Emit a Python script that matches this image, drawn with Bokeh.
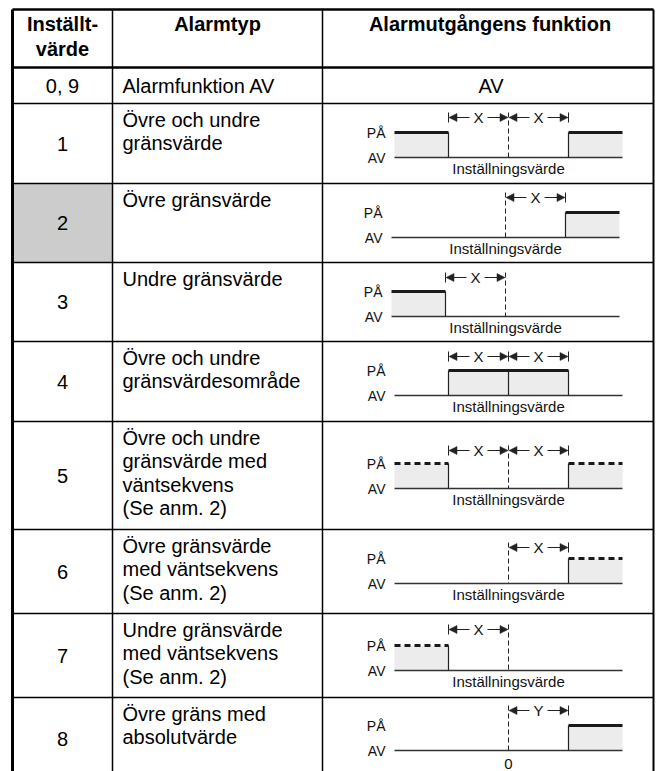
from bokeh.plotting import figure
from bokeh.models import Range1d, Arrow, NormalHead, ColumnDataSource
from bokeh.core.properties import value
from bokeh.embed import file_html
from bokeh.resources import INLINE

# ---------------- table content ----------------
header_col1 = ["Inställt-", "värde"]
header_col2 = ["Alarmtyp"]
header_col3 = ["Alarmutgångens funktion"]
setting_values = ["0, 9", "1", "2", "3", "4", "5", "6", "7", "8"]
alarm_types = [
    ["Alarmfunktion AV"],
    ["Övre och undre", "gränsvärde"],
    ["Övre gränsvärde"],
    ["Undre gränsvärde"],
    ["Övre och undre", "gränsvärdesområde"],
    ["Övre och undre", "gränsvärde med", "väntsekvens", "(Se anm. 2)"],
    ["Övre gränsvärde", "med väntsekvens", "(Se anm. 2)"],
    ["Undre gränsvärde", "med väntsekvens", "(Se anm. 2)"],
    ["Övre gräns med", "absolutvärde"],
]
off_output_text = "AV"
highlighted_setting = "2"

# ---------------- alarm output diagrams ----------------
# value axis in units of X (or Y) around the set point (0)
value_span = [-1.9, 1.9]
on_ranges = [
    [[-1.9, -1.0], [1.0, 1.9]],
    [[1.0, 1.9]],
    [[-1.9, -1.0]],
    [[-1.0, 1.0]],
    [[-1.9, -1.0], [1.0, 1.9]],
    [[1.0, 1.9]],
    [[-1.9, -1.0]],
    [[1.0, 1.9]],
]
standby_sequence = [False, False, False, False, True, True, True, False]
band_spans = [
    [[-1, 0], [0, 1]],
    [[0, 1]],
    [[-1, 0]],
    [[-1, 0], [0, 1]],
    [[-1, 0], [0, 1]],
    [[0, 1]],
    [[-1, 0]],
    [[0, 1]],
]
band_labels = ["X", "X", "X", "X", "X", "X", "X", "Y"]
axis_labels = ["Inställningsvärde"] * 7 + ["0"]
level_labels = ["PÅ", "AV"]

# ---------------- layout (screen pixels) ----------------
FONT = value("Liberation Sans")
col_edges = [12, 112, 322, 653]
row_edges = [9, 67, 103, 183, 262, 341, 421, 529, 613, 697, 771]
diag_setpoint_px = [508, 505, 505, 508, 508, 508, 508, 508]
diag_off_px = [157, 237, 316, 395, 488, 583, 670, 750]
diag_arrow_px = [117, 197, 277, 356, 450, 547, 629, 710]
unit_px = 60
level_gap = 25

p = figure(width=660, height=771, x_range=Range1d(0, 660), y_range=Range1d(771, 0),
           output_backend="svg", toolbar_location=None, min_border=0)
p.axis.visible = False
p.grid.visible = False
p.outline_line_color = None
p.background_fill_color = "white"
p.border_fill_color = "white"

# highlighted cell
hi = setting_values.index(highlighted_setting) + 1
p.quad(left=[col_edges[0]], right=[col_edges[1]], top=[row_edges[hi]], bottom=[row_edges[hi + 1]],
       fill_color="#cccccc", line_color=None)

# grid lines
inner_rows = row_edges[2:-1]
p.segment(x0=[col_edges[0]] * len(inner_rows), x1=[col_edges[-1]] * len(inner_rows),
          y0=inner_rows, y1=inner_rows, line_color="black", line_width=1.5)
p.segment(x0=[col_edges[0]], x1=[col_edges[-1]], y0=[row_edges[1]], y1=[row_edges[1]],
          line_color="black", line_width=2.5)
p.segment(x0=[col_edges[0]], x1=[col_edges[-1]], y0=[row_edges[0]], y1=[row_edges[0]],
          line_color="black", line_width=2.5)
p.segment(x0=col_edges[1:3], x1=col_edges[1:3], y0=[row_edges[0]] * 2, y1=[row_edges[-1]] * 2,
          line_color="black", line_width=1.5)
p.segment(x0=[col_edges[0]], x1=[col_edges[0]], y0=[row_edges[0]], y1=[row_edges[-1]],
          line_color="black", line_width=3)
p.segment(x0=[col_edges[-1]], x1=[col_edges[-1]], y0=[row_edges[0]], y1=[row_edges[-1]],
          line_color="black", line_width=2)

# header texts
c1 = (col_edges[0] + col_edges[1]) / 2
c2 = (col_edges[1] + col_edges[2]) / 2
c3 = (col_edges[2] + col_edges[3]) / 2
hx, hy, ht = [], [], []
for i, t in enumerate(header_col1):
    hx.append(c1); hy.append(23 + i * 25); ht.append(t)
hx += [c2, c3 + 2]; hy += [23, 23]; ht += header_col2 + header_col3
p.text(x=hx, y=hy, text=ht, text_font=FONT, text_font_size="20px", text_font_style="bold",
       text_align="center", text_baseline="middle", text_color="black")

# column 1 and 2 texts
nx, ny, nt = [], [], []
ax, ay, at = [], [], []
for r, (sv, lines) in enumerate(zip(setting_values, alarm_types)):
    top, bot = row_edges[r + 1], row_edges[r + 2]
    last = r == len(setting_values) - 1
    nx.append(c1); ny.append(top + 41 if last else (top + bot) / 2); nt.append(sv)
    if r == 0:
        ax.append(122); ay.append((top + bot) / 2); at.append(lines[0])
    else:
        for k, t in enumerate(lines):
            ax.append(122); ay.append(top + 16.5 + k * 23.3); at.append(t)
p.text(x=nx, y=ny, text=nt, text_font=FONT, text_font_size="20px", text_align="center",
       text_baseline="middle", text_color="black")
p.text(x=ax, y=ay, text=at, text_font=FONT, text_font_size="20px", text_align="left",
       text_baseline="middle", text_color="black")
p.text(x=[c3 + 3], y=[(row_edges[1] + row_edges[2]) / 2], text=[off_output_text], text_font=FONT,
       text_font_size="20px", text_align="center", text_baseline="middle", text_color="black")

# diagrams
fl, fr, ft, fb = [], [], [], []
sol = dict(x0=[], x1=[], y0=[], y1=[])
das = dict(x0=[], x1=[], y0=[], y1=[])
base = dict(x0=[], x1=[], y0=[], y1=[])
edges = dict(x0=[], x1=[], y0=[], y1=[])
thin = dict(x0=[], x1=[], y0=[], y1=[])
spd = dict(x0=[], x1=[], y0=[], y1=[])
arr = dict(x_start=[], x_end=[], y_start=[], y_end=[])
lx, ly, lt = [], [], []
blx, bly, blt = [], [], []
tx, ty, tt = [], [], []

def add(d, a, b, c, e):
    d["x0"].append(a); d["x1"].append(b); d["y0"].append(c); d["y1"].append(e)

for i in range(len(on_ranges)):
    sp, yo, ya = diag_setpoint_px[i], diag_off_px[i], diag_arrow_px[i]
    yon = yo - level_gap
    X = lambda v: sp + v * unit_px
    add(base, X(value_span[0]), X(value_span[1]), yo, yo)
    for a, b in on_ranges[i]:
        fl.append(X(a)); fr.append(X(b)); ft.append(yon); fb.append(yo)
        add(das if standby_sequence[i] else sol, X(a), X(b), yon, yon)
        for v in (a, b):
            if value_span[0] < v < value_span[1]:
                add(edges, X(v), X(v), yon, yo)
        if a < 0 < b:
            add(edges, X(0), X(0), yon, yo)
    # set point line
    inside_on = any(a < 0 < b for a, b in on_ranges[i])
    if inside_on:
        add(thin, X(0), X(0), ya - 5, ya + 5)
    else:
        add(spd, X(0), X(0), ya - 5, yo)
    # band ticks and arrows
    for a, b in band_spans[i]:
        for v in (a, b):
            if v != 0:
                add(thin, X(v), X(v), ya - 5, ya + 5)
        m = X((a + b) / 2)
        arr["x_start"] += [m - 9, m + 9]; arr["x_end"] += [X(a) + 0.5, X(b) - 0.5]
        arr["y_start"] += [ya, ya]; arr["y_end"] += [ya, ya]
        blx.append(m); bly.append(ya); blt.append(band_labels[i])
    lx += [X(value_span[0]) - 9, X(value_span[0]) - 9]; ly += [yon, yo]; lt += level_labels
    tx.append(X(0)); ty.append(yo + (11 if axis_labels[i] != "0" else 13)); tt.append(axis_labels[i])

p.quad(left=fl, right=fr, top=ft, bottom=fb, fill_color="#ececec", line_color=None)
p.segment(line_color="#333333", line_width=1.5, **base)
p.segment(line_color="#222222", line_width=1.2, **edges)
p.segment(line_color="#222222", line_width=1, **thin)
p.segment(line_color="#222222", line_width=1, line_dash="5 3", **spd)
p.segment(line_color="#1a1a1a", line_width=3.2, **sol)
p.segment(line_color="#1a1a1a", line_width=3.2, line_dash="6 4", **das)
p.add_layout(Arrow(end=NormalHead(size=8, fill_color="#222222", line_color="#222222", line_width=0.5),
                   line_color="#222222", line_width=1, source=ColumnDataSource(arr),
                   x_start="x_start", x_end="x_end", y_start="y_start", y_end="y_end"))
p.text(x=lx, y=ly, text=lt, text_font=FONT, text_font_size="14px", text_align="right",
       text_baseline="middle", text_color="#111111")
p.text(x=blx, y=bly, text=blt, text_font=FONT, text_font_size="15px", text_align="center",
       text_baseline="middle", text_color="#111111")
p.text(x=tx, y=ty, text=tt, text_font=FONT, text_font_size="15px", text_align="center",
       text_baseline="middle", text_color="#111111")

open("out.html", "w").write(file_html(p, INLINE))
